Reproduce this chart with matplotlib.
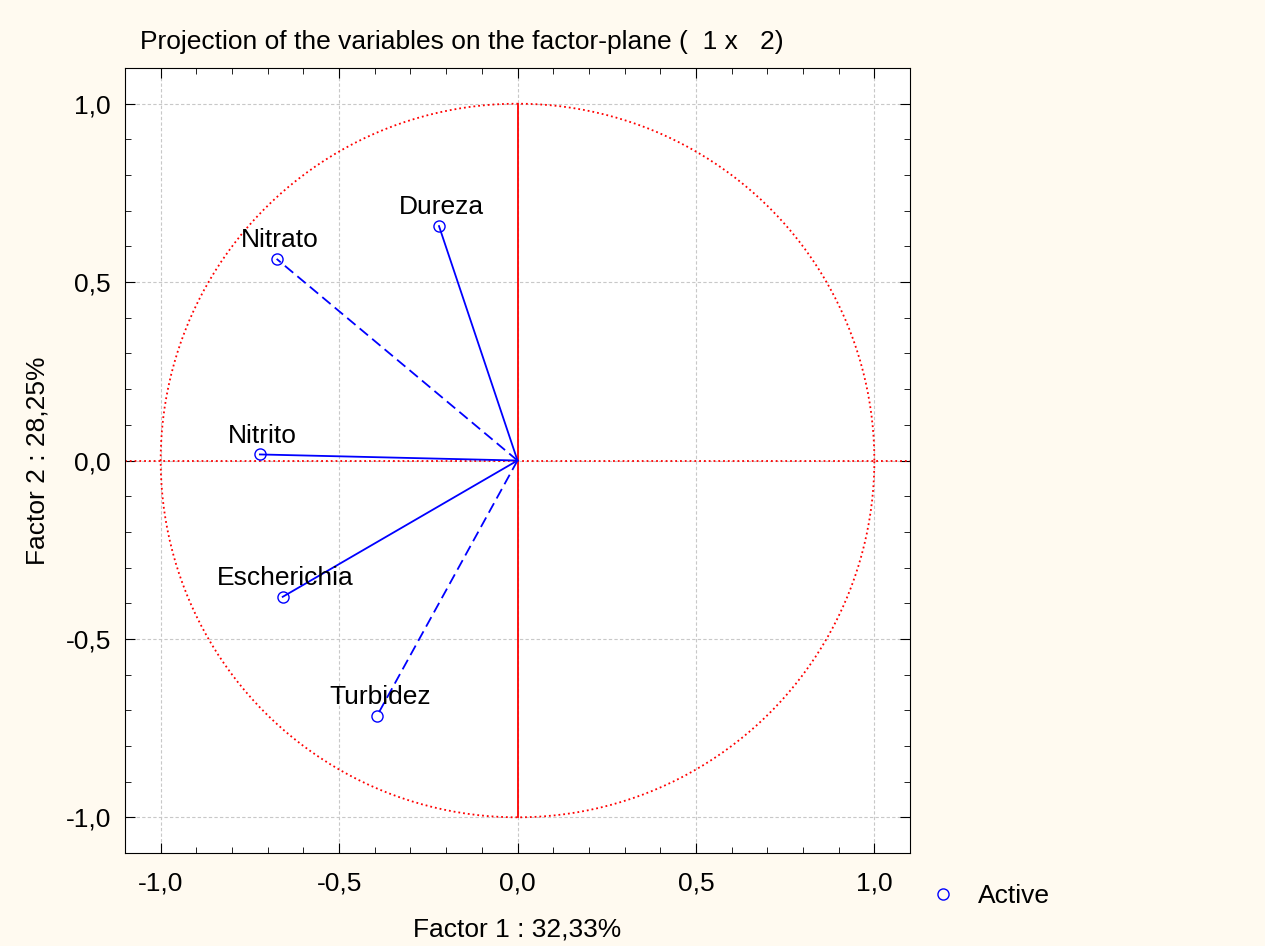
import matplotlib.pyplot as plt
import numpy as np
from matplotlib.ticker import MultipleLocator, FuncFormatter
from matplotlib.lines import Line2D

plt.rcParams['font.family'] = ['Liberation Sans', 'DejaVu Sans']

# variable coordinates on factor 1 / factor 2
variables = ['Dureza', 'Nitrato', 'Nitrito', 'Escherichia', 'Turbidez']
factor1 = [-0.22, -0.675, -0.722, -0.658, -0.394]
factor2 = [0.657, 0.565, 0.017, -0.382, -0.716]
styles = ['-', '--', '-', '-', '--']

fs = 19

fig = plt.figure(figsize=(12.65, 9.46), dpi=100)
fig.patch.set_facecolor('#fffaf0')
ax = fig.add_axes([0.0988, 0.0983, 0.6206, 0.8298])
ax.set_facecolor('white')

# unit circle and axes lines
t = np.linspace(0, 2 * np.pi, 400)
ax.plot(np.cos(t), np.sin(t), color='red', linestyle=':', linewidth=1.3, zorder=2)
ax.plot([-1.1, 1.1], [0, 0], color='red', linestyle=':', linewidth=1.3, zorder=2)
ax.plot([0, 0], [-1, 1], color='red', linestyle='-', linewidth=1.3, zorder=2)

for name, x, y, ls in zip(variables, factor1, factor2, styles):
    ax.plot([0, x], [0, y], color='blue', linestyle=ls, linewidth=1.3,
             dashes=(6, 3) if ls == '--' else (None, None), zorder=3)
    ax.plot(x, y, 'o', mfc='none', mec='blue', markersize=8, mew=1, zorder=4)
    ax.annotate(name, (x, y), xytext=(2, 5), textcoords='offset points',
                ha='center', va='bottom', fontsize=fs)

ax.set_xlim(-1.1, 1.1)
ax.set_ylim(-1.1, 1.1)
ax.xaxis.set_major_locator(MultipleLocator(0.5))
ax.yaxis.set_major_locator(MultipleLocator(0.5))
ax.xaxis.set_minor_locator(MultipleLocator(0.1))
ax.yaxis.set_minor_locator(MultipleLocator(0.1))
fmt = FuncFormatter(lambda v, p: f'{v:.1f}'.replace('.', ',').replace('-0,0', '0,0'))
ax.xaxis.set_major_formatter(fmt)
ax.yaxis.set_major_formatter(fmt)
ax.tick_params(which='both', direction='in', top=True, right=True, labelsize=fs)
ax.tick_params(which='major', length=7, pad=10)
ax.tick_params(axis='x', which='major', pad=13)
ax.tick_params(which='minor', length=4)
ax.grid(True, which='major', color='#c8c8c8', linestyle='--', linewidth=0.8, dashes=(3, 2))
ax.set_axisbelow(True)

ax.set_xlabel('Factor 1 : 32,33%', fontsize=fs, labelpad=16)
ax.set_ylabel('Factor 2 : 28,25%', fontsize=fs, labelpad=12)
fig.text(0.111, 0.956, 'Projection of the variables on the factor-plane (  1 x   2)',
         fontsize=fs, ha='left', va='center')

handle = Line2D([], [], marker='o', linestyle='none', mfc='none', mec='blue', markersize=8)
fig.legend([handle], ['Active'], loc='center left', bbox_to_anchor=(0.706, 0.053),
           frameon=False, fontsize=fs, handletextpad=0.3)

plt.savefig('out.png')
